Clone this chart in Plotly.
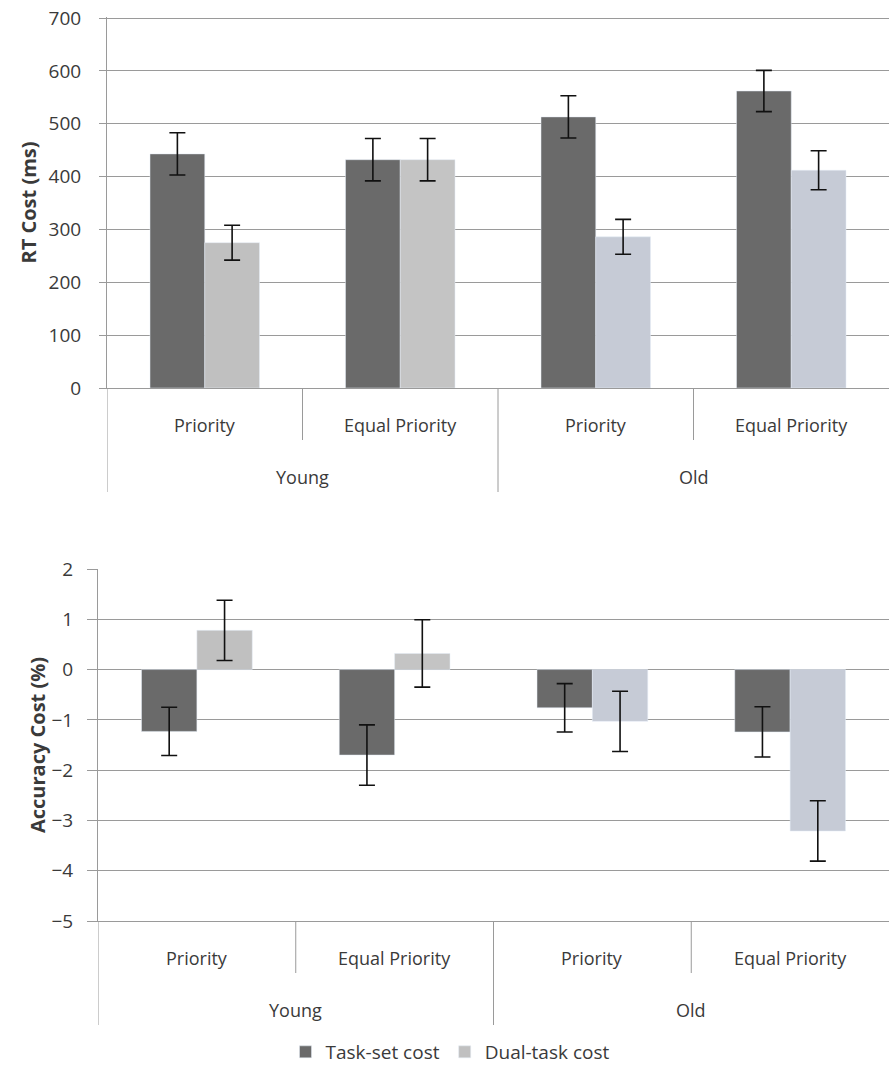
import plotly.graph_objects as go

# ---- data ----
groups = ["Young", "Young", "Old", "Old"]
conditions = ["Priority", "Equal Priority", "Priority", "Equal Priority"]
series_names = ["Task-set cost", "Dual-task cost"]

rt_taskset = [443, 432, 513, 562]
rt_taskset_err = [40, 40, 40, 39]
rt_dualtask = [275, 432, 286, 412]
rt_dualtask_err = [33, 40, 33, 37]

acc_taskset = [-1.23, -1.70, -0.76, -1.24]
acc_taskset_err = [0.48, 0.60, 0.48, 0.50]
acc_dualtask = [0.78, 0.32, -1.03, -3.21]
acc_dualtask_err = [0.60, 0.67, 0.60, 0.60]

rt_ticks = [0, 100, 200, 300, 400, 500, 600, 700]
acc_ticks = [-5, -4, -3, -2, -1, 0, 1, 2]

# ---- style ----
W, H = 889, 1079
FONT = "Open Sans"
TXT = "#3a3a3a"
GRID = "#9a9a9a"
c_task = "#6a6a6a"
c_dual = ["#c0c0c0", "#c4c4c4", "#c6cbd6", "#c6cbd6"]

cats = [f"{g}|{c}" for g, c in zip(groups, conditions)]


def err(arr):
    return dict(type="data", array=arr, visible=True, color="#111111", thickness=1.6, width=8)


fig = go.Figure()

fig.add_trace(go.Bar(x=cats, y=rt_taskset, name=series_names[0], marker_color=c_task,
                     error_y=err(rt_taskset_err), xaxis="x", yaxis="y", legendgroup="a"))
fig.add_trace(go.Bar(x=cats, y=rt_dualtask, name=series_names[1], marker_color=c_dual,
                     error_y=err(rt_dualtask_err), xaxis="x", yaxis="y", legendgroup="b"))
fig.add_trace(go.Bar(x=cats, y=acc_taskset, name=series_names[0], marker_color=c_task,
                     error_y=err(acc_taskset_err), xaxis="x2", yaxis="y2", legendgroup="a",
                     showlegend=False))
fig.add_trace(go.Bar(x=cats, y=acc_dualtask, name=series_names[1], marker_color=c_dual,
                     error_y=err(acc_dualtask_err), xaxis="x2", yaxis="y2", legendgroup="b",
                     showlegend=False))

xcommon = dict(type="category", showline=True, linecolor=GRID, linewidth=1,
               showticklabels=False, ticks="", showgrid=False, automargin=False,
               range=[-0.5, len(cats) - 0.5])

ycommon = dict(showgrid=True, gridcolor=GRID, gridwidth=1, showline=True, linecolor=GRID,
               linewidth=1, ticks="outside", tickcolor=GRID, automargin=False,
               ticklabeloverflow="allow",
               tickfont=dict(family=FONT, size=19, color=TXT), zeroline=False)

fig.update_layout(
    width=W, height=H,
    margin=dict(l=0, r=0, t=0, b=0),
    paper_bgcolor="white", plot_bgcolor="white",
    barmode="group", bargap=0.44, bargroupgap=0,
    font=dict(family=FONT, color=TXT),
    xaxis=dict(domain=[107 / W, 1], anchor="y", **xcommon),
    yaxis=dict(domain=[1 - 388 / H, 1 - 17 / H], anchor="x", range=[0, 702],
               tickvals=rt_ticks, ticklen=7, ticklabelstandoff=14,
               title=dict(text="<b>RT Cost (ms)</b>", font=dict(family=FONT, size=20, color=TXT),
                          standoff=6),
               **ycommon),
    xaxis2=dict(domain=[98 / W, 1], anchor="y2", **xcommon),
    yaxis2=dict(domain=[1 - 921 / H, 1 - 569 / H], anchor="x2", range=[-5, 2],
                tickvals=acc_ticks, ticklen=10, ticklabelstandoff=10,
                title=dict(text="<b>Accuracy Cost (%)</b>", font=dict(family=FONT, size=20, color=TXT),
                           standoff=0),
                **ycommon),
    legend=dict(orientation="h", x=450 / W, xanchor="center", y=1 - 1052 / H,
                yanchor="middle", font=dict(family=FONT, size=19, color=TXT), itemwidth=30,
                traceorder="normal"),
)

# two-level category labels and dividers
annotations = []
shapes = []
for xa, ya in (("x", "y domain"), ("x2", "y2 domain")):
    for i, c in enumerate(conditions):
        annotations.append(dict(x=i, y=0, xref=xa, yref=ya, text=c, showarrow=False,
                                yshift=-37, yanchor="middle",
                                font=dict(family=FONT, size=18, color=TXT)))
    unique_groups = list(dict.fromkeys(groups))
    for g in unique_groups:
        idx = [i for i, gg in enumerate(groups) if gg == g]
        annotations.append(dict(x=sum(idx) / len(idx), y=0, xref=xa, yref=ya, text=g,
                                showarrow=False, yshift=-89, yanchor="middle",
                                font=dict(family=FONT, size=18, color=TXT)))
    for i in range(len(cats)):
        pos = i - 0.5
        is_group_edge = (i == 0 or groups[i] != groups[i - 1])
        length = 104 if is_group_edge else 52
        shapes.append(dict(type="line", xref=xa, yref=ya, ysizemode="pixel", yanchor=0,
                           x0=pos, x1=pos, y0=0, y1=-length,
                           line=dict(color=GRID, width=1)))

fig.update_layout(annotations=annotations, shapes=shapes)

fig.write_html("out.html", config={"displayModeBar": False},
               post_script="document.body.style.margin='0px';")
